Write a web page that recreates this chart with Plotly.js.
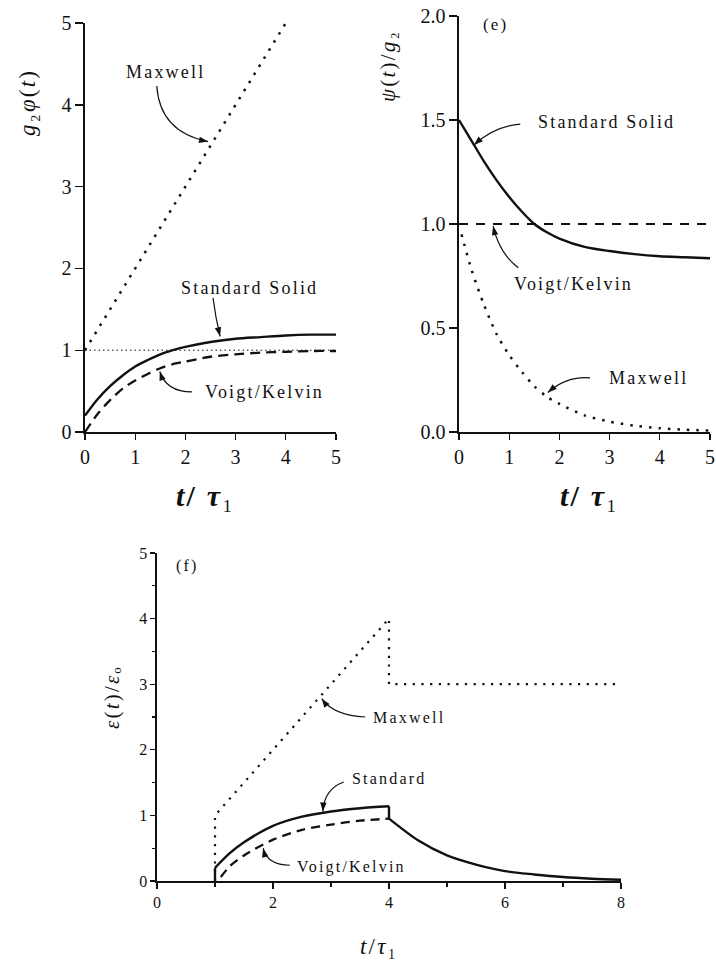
<!DOCTYPE html>
<html>
<head>
<meta charset="utf-8">
<script src="https://cdn.plot.ly/plotly-3.0.1.min.js"></script>
<style>
  html, body { margin: 0; padding: 0; background: #fff; }
  #chart { width: 716px; height: 961px; }
  .annotation-text { letter-spacing: 2.2px; }
</style>
</head>
<body>
<div id="chart"></div>
<script>
// ---- (d) creep compliance g2*phi(t) vs t/tau1 ----
const tD = [0, 0.25, 0.5, 0.75, 1, 1.25, 1.5, 1.75, 2, 2.5, 3, 3.5, 4, 4.5, 5];
const dStandard = [0.20, 0.40, 0.56, 0.69, 0.80, 0.88, 0.95, 1.00, 1.04, 1.10, 1.14, 1.16, 1.18, 1.19, 1.19];
const dVoigt = [0, 0.22, 0.39, 0.53, 0.63, 0.71, 0.78, 0.83, 0.86, 0.92, 0.95, 0.97, 0.98, 0.99, 0.99];
const dMaxwellT = [0, 4];
const dMaxwell = [1, 5];
const dLimitT = [0, 5];
const dLimit = [1, 1];

// ---- (e) relaxation psi(t)/g2 vs t/tau1 ----
const tE = [0, 0.25, 0.5, 0.75, 1, 1.25, 1.5, 1.75, 2, 2.5, 3, 3.5, 4, 4.5, 5];
const eStandard = [1.50, 1.40, 1.30, 1.21, 1.13, 1.06, 1.00, 0.96, 0.93, 0.89, 0.87, 0.855, 0.845, 0.84, 0.835];
const eVoigtT = [0, 5];
const eVoigt = [1, 1];
const eMaxwellT = [0.05, 0.25, 0.5, 0.75, 1, 1.25, 1.5, 1.75, 2, 2.5, 3, 3.5, 4, 4.5, 5];
const eMaxwell = [0.95, 0.78, 0.61, 0.47, 0.37, 0.29, 0.22, 0.17, 0.135, 0.08, 0.05, 0.03, 0.018, 0.011, 0.007];

// ---- (f) strain response to a stress pulse, eps(t)/eps0 vs t/tau1 ----
const fMaxwellT = [1, 1, 4, 4, 8];
const fMaxwell = [0, 1, 4, 3, 3];
const fStandardT = [1, 1, 1.25, 1.5, 2, 2.5, 3, 3.5, 4, 4, 4.5, 5, 5.5, 6, 6.5, 7, 7.5, 8];
const fStandard = [0, 0.2, 0.42, 0.59, 0.84, 0.98, 1.06, 1.11, 1.14, 0.95, 0.62, 0.39, 0.25, 0.15, 0.10, 0.06, 0.035, 0.02];
const fVoigtT = [1.1, 1.25, 1.5, 2, 2.5, 3, 3.5, 4];
const fVoigt = [0.06, 0.22, 0.39, 0.63, 0.78, 0.86, 0.92, 0.95];

// tick labels
const tickTop = [0, 1, 2, 3, 4, 5];
const tickE = [0, 0.5, 1.0, 1.5, 2.0];
const tickEText = ['0.0', '0.5', '1.0', '1.5', '2.0'];
const tickFx = [0, 2, 4, 6, 8];
const tickFy = [0, 1, 2, 3, 4, 5];

const SERIF = "'Liberation Serif', 'Times New Roman', Times, serif";
const BLACK = '#111';
const DOT = '2.5px,7px';
const DASH = '10px,6px';

function line(x, y, xa, ya, dash, width, shape) {
  return { x: x, y: y, xaxis: xa, yaxis: ya, type: 'scatter', mode: 'lines',
           line: { color: BLACK, width: width, dash: dash, shape: shape || 'linear', smoothing: 0.8 },
           hoverinfo: 'skip', showlegend: false };
}

// a piecewise curve: smooth stretches joined by straight jumps (index ranges, inclusive)
function pieces(x, y, xa, ya, dash, width, ranges) {
  return ranges.map(r => line(x.slice(r[0], r[1] + 1), y.slice(r[0], r[1] + 1), xa, ya, dash, width, r[2]));
}

const traces = [
  line(dLimitT, dLimit, 'x', 'y', '1.5px,3px', 1),
  line(dMaxwellT, dMaxwell, 'x', 'y', DOT, 2.5),
  line(tD, dVoigt, 'x', 'y', DASH, 2.3, 'spline'),
  line(tD, dStandard, 'x', 'y', 'solid', 2.4, 'spline'),

  line(eVoigtT, eVoigt, 'x2', 'y2', '9px,8px', 2),
  line(eMaxwellT, eMaxwell, 'x2', 'y2', DOT, 2.5, 'spline'),
  line(tE, eStandard, 'x2', 'y2', 'solid', 2.4, 'spline'),

  line(fMaxwellT, fMaxwell, 'x3', 'y3', '2.2px,6.5px', 2.2),
  line(fVoigtT, fVoigt, 'x3', 'y3', '9px,6px', 2.3, 'spline'),
  ...pieces(fStandardT, fStandard, 'x3', 'y3', 'solid', 2.4,
            [[0, 1, 'linear'], [1, 8, 'spline'], [8, 9, 'linear'], [9, 17, 'spline']])
];

function axis(domain, range, anchor, tickvals, ticktext, fontSize, extra) {
  return Object.assign({
    domain: domain, range: range, anchor: anchor,
    showline: true, linecolor: BLACK, linewidth: 1.6,
    ticks: 'outside', ticklen: 6, tickwidth: 1.4, tickcolor: BLACK,
    tickmode: 'array', tickvals: tickvals, ticktext: ticktext,
    tickfont: { family: SERIF, size: fontSize, color: BLACK },
    showgrid: false, zeroline: false, fixedrange: true
  }, extra || {});
}

const W = 716, H = 961;
const px = v => v / W;
const py = v => 1 - v / H;

const layout = {
  width: W, height: H,
  margin: { l: 0, r: 0, t: 0, b: 0 },
  paper_bgcolor: '#fff', plot_bgcolor: 'rgba(0,0,0,0)',
  showlegend: false,
  font: { family: SERIF, color: BLACK },

  xaxis: axis([px(85), px(336)], [0, 5], 'y', tickTop, tickTop.map(String), 20),
  yaxis: axis([py(432), py(23)], [0, 5], 'x', tickTop, tickTop.map(String), 20, { ticklen: 8 }),

  xaxis2: axis([px(459), px(710)], [0, 5], 'y2', tickTop, tickTop.map(String), 20),
  yaxis2: axis([py(432), py(16)], [0, 2], 'x2', tickE, tickEText, 20, { ticklen: 8 }),

  xaxis3: axis([px(157), px(621)], [0, 8], 'y3', tickFx, tickFx.map(String), 16,
               { minor: { dtick: 1, ticklen: 4, tickwidth: 1.2, tickcolor: BLACK, ticks: 'outside' } }),
  yaxis3: axis([py(881), py(553)], [0, 5], 'x3', tickFy, tickFy.map(String), 16,
               { ticklen: 5, minor: { dtick: 0.5, ticklen: 3, tickwidth: 1.2, tickcolor: BLACK, ticks: 'outside' } }),

  annotations: [],
  shapes: []
};

// pixels per data unit for each axis, from its domain and range
function scale(axName, size) {
  const a = layout[axName];
  return (a.domain[1] - a.domain[0]) * size / (a.range[1] - a.range[0]);
}
const axMap = { x: 'xaxis', y: 'yaxis', x2: 'xaxis2', y2: 'yaxis2', x3: 'xaxis3', y3: 'yaxis3' };

function label(xa, ya, x, y, text, size) {
  layout.annotations.push({ xref: xa, yref: ya, x: x, y: y, text: text, showarrow: false,
                            font: { family: SERIF, size: size || 18, color: BLACK },
                            xanchor: 'center', yanchor: 'middle' });
}

// curved leader line (quadratic) ending in a filled arrowhead
function leader(xa, ya, p0, c, p1) {
  layout.shapes.push({ type: 'path', xref: xa, yref: ya,
    path: `M${p0[0]},${p0[1]} Q${c[0]},${c[1]} ${p1[0]},${p1[1]}`,
    line: { color: BLACK, width: 1.2 } });
  const sx = scale(axMap[xa], W), sy = scale(axMap[ya], H);
  let dx = (p1[0] - c[0]) * sx, dy = (p1[1] - c[1]) * sy;
  const n = Math.hypot(dx, dy); dx /= n; dy /= n;
  const L = 9, w = 3.2;
  const bx = -L * dx, by = -L * dy;
  const f = v => v.toFixed(2);
  layout.shapes.push({ type: 'path', xref: xa, yref: ya,
    xsizemode: 'pixel', ysizemode: 'pixel', xanchor: p1[0], yanchor: p1[1],
    path: `M0,0 L${f(bx - w * dy)},${f(by + w * dx)} L${f(bx + w * dy)},${f(by - w * dx)} Z`,
    fillcolor: BLACK, line: { width: 0 } });
}

function title(xp, yp, text, size, angle) {
  layout.annotations.push({ xref: 'paper', yref: 'paper', x: xp, y: yp, text: text, showarrow: false,
                            textangle: angle || 0, font: { family: SERIF, size: size, color: BLACK },
                            xanchor: 'center', yanchor: 'middle' });
}

// panel (d)
label('x', 'y', 0.74, 5.09, '(d)', 17);
label('x', 'y', 1.60, 4.40, 'Maxwell');
leader('x', 'y', [1.43, 4.23], [1.49, 3.67], [2.45, 3.55]);
label('x', 'y', 3.28, 1.76, 'Standard Solid');
leader('x', 'y', [2.55, 1.64], [2.60, 1.40], [2.69, 1.17]);
label('x', 'y', 3.58, 0.49, 'Voigt/Kelvin');
leader('x', 'y', [2.13, 0.49], [1.62, 0.49], [1.49, 0.74]);

// panel (e)
label('x2', 'y2', 0.72, 1.96, '(e)', 17);
label('x2', 'y2', 2.93, 1.49, 'Standard Solid');
leader('x2', 'y2', [1.22, 1.48], [0.70, 1.47], [0.30, 1.38]);
label('x2', 'y2', 2.29, 0.71, 'Voigt/Kelvin');
leader('x2', 'y2', [1.18, 0.79], [0.80, 0.86], [0.68, 0.99]);
label('x2', 'y2', 3.77, 0.26, 'Maxwell');
leader('x2', 'y2', [2.61, 0.26], [2.15, 0.27], [1.77, 0.19]);

// panel (f)
label('x3', 'y3', 0.52, 4.80, '(f)', 16);
label('x3', 'y3', 4.35, 2.50, 'Maxwell', 16);
leader('x3', 'y3', [3.59, 2.50], [3.05, 2.52], [2.84, 2.78]);
label('x3', 'y3', 4.00, 1.57, 'Standard', 16);
leader('x3', 'y3', [3.22, 1.51], [2.88, 1.40], [2.86, 1.06]);
label('x3', 'y3', 3.36, 0.21, 'Voigt/Kelvin', 16);
leader('x3', 'y3', [2.29, 0.24], [1.90, 0.24], [1.83, 0.50]);

// axis titles (subscripts as Unicode subscript digits/letters)
title(px(27), py(103), '<i>g</i>₂<i>φ</i>(<i>t</i>)', 23, -90);
title(px(205), py(495), '<b><i>t</i>/ <i>τ</i></b>₁', 30);
title(px(388), py(66), '<i>ψ</i>(<i>t</i>)/<i>g</i>₂', 21, -90);
title(px(589), py(495), '<b><i>t</i>/ <i>τ</i></b>₁', 30);
title(px(112), py(697), '<i>ε</i>(<i>t</i>)/<i>ε</i>ₒ', 21, -90);
title(px(379), py(946), '<i>t</i>/<i>τ</i>₁', 23);

Plotly.newPlot('chart', traces, layout, { staticPlot: true, displayModeBar: false });
</script>
</body>
</html>
